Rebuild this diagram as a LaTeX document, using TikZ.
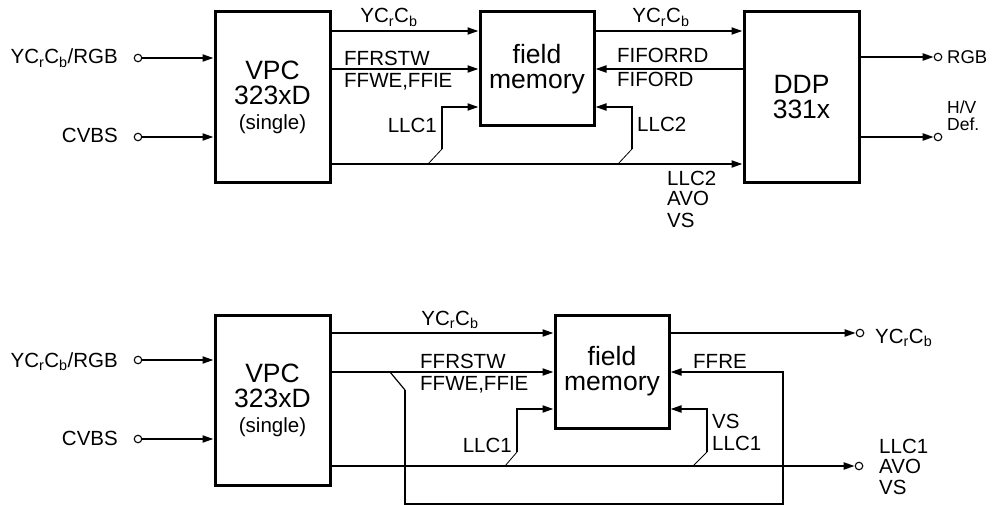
\documentclass[tikz,border=0pt]{standalone}
\usepackage{fontspec}
\setmainfont{Liberation Sans}
\usetikzlibrary{arrows.meta,calc}
\newcommand{\ycc}{YC\textsubscript{r}C\textsubscript{b}}
\begin{document}
\begin{tikzpicture}[x=1pt,y=-1pt,
  blk/.style={draw, line width=3pt, inner sep=0pt, align=center, font=\fontsize{26.5}{27}\selectfont},
  lbl/.style={inner sep=0pt, font=\fontsize{20.5}{21}\selectfont},
  slbl/.style={inner sep=0pt, align=left, font=\fontsize{17.5}{17}\selectfont},
  ln/.style={line width=2pt},
  arr/.style={line width=2pt, -{Triangle[length=11pt,width=7pt]}},
  tick/.style={line width=0.8pt},
  term/.style={circle, draw, line width=1.1pt, minimum size=7.5pt, inner sep=0pt}]
\useasboundingbox (0,0) rectangle (993,505);

% ---------------- top diagram ----------------
\node[blk, minimum width=115pt, minimum height=171pt] (vpc1) at (272.5,97.5)
  {VPC\\[-2pt]323xD\\[-2pt]{\fontsize{20.5}{22}\selectfont (single)}};
\node[blk, minimum width=114pt, minimum height=114pt] (fm1) at (537,69)
  {field\\[-2pt]memory};
\node[blk, minimum width=115pt, minimum height=171pt] (ddp) at (801.5,97.5)
  {DDP\\[-2pt]331x};

\coordinate (t1) at (0,31);
\coordinate (t2) at (0,69);
\coordinate (t3) at (0,107);
\coordinate (t4) at (0,164);

% inputs
\node[term] (ci1) at (138,58) {};
\node[term] (ci2) at (138,137) {};
\node[lbl, anchor=base east] (li1) at (118,64) {\ycc/RGB};
\node[lbl, anchor=base east] (li2) at (118,143) {CVBS};
\draw[arr] (ci1.east) -- (vpc1.west |- ci1);
\draw[arr] (ci2.east) -- (vpc1.west |- ci2);

% VPC -> field memory
\draw[arr] (vpc1.east |- t1) -- (fm1.west |- t1);
\draw[arr] (vpc1.east |- t2) -- (fm1.west |- t2);
\node[lbl, anchor=base] (l1) at (389,23) {\ycc};
\node[lbl, anchor=base west] (l2) at (344,66) {FFRSTW};
\node[lbl, anchor=base west] (l3) at (344,88) {FFWE,FFIE};

% bus
\draw[arr] (vpc1.east |- t4) -- (ddp.west |- t4);
\coordinate (b1) at (428,164);
\coordinate (b1k) at (442,149);
\draw[tick] (b1) -- (b1k);
\draw[arr] (b1k) -- (b1k |- t3) -- (fm1.west |- t3);
\node[lbl, anchor=base east] (l4) at (437,133) {LLC1};

\coordinate (b2) at (618,164);
\coordinate (b2k) at (632,149);
\draw[tick] (b2) -- (b2k);
\draw[arr] (b2k) -- (b2k |- t3) -- (fm1.east |- t3);
\node[lbl, anchor=base west] (l5) at (637,132) {LLC2};

% field memory <-> DDP
\draw[arr] (fm1.east |- t1) -- (ddp.west |- t1);
\draw[arr] (ddp.west |- t2) -- (fm1.east |- t2);
\node[lbl, anchor=base] (l6) at (661,23) {\ycc};
\node[lbl, anchor=base west] (l7) at (617,63) {FIFORRD};
\node[lbl, anchor=base west] (l8) at (617,87) {FIFORD};

\node[lbl, anchor=base west] (l9a) at (667,186) {LLC2};
\node[lbl, anchor=base west] (l9b) at (667,206) {AVO};
\node[lbl, anchor=base west] (l9c) at (667,227) {VS};

% DDP outputs
\node[term] (co1) at (938,57) {};
\node[term] (co2) at (938,137) {};
\draw[arr] (ddp.east |- co1) -- (co1.west);
\draw[arr] (ddp.east |- co2) -- (co2.west);
\node[lbl, anchor=base west, font=\fontsize{18.5}{19}\selectfont] (lo1) at (947,64) {RGB};
\node[slbl, anchor=base west] (lo2) at (947,131) {H/V\\Def.};

% ---------------- bottom diagram ----------------
\node[blk, minimum width=115pt, minimum height=170pt] (vpc2) at (272.5,400)
  {VPC\\[-2pt]323xD\\[-2pt]{\fontsize{20.5}{22}\selectfont (single)}};
\node[blk, minimum width=114pt, minimum height=113pt] (fm2) at (612,371.5)
  {field\\[-2pt]memory};

\coordinate (u1) at (0,333);
\coordinate (u2) at (0,372);
\coordinate (u3) at (0,409);
\coordinate (u4) at (0,466);

% inputs
\node[term] (di1) at (138,360) {};
\node[term] (di2) at (138,439) {};
\node[lbl, anchor=base east] (mi1) at (118,367) {\ycc/RGB};
\node[lbl, anchor=base east] (mi2) at (118,445) {CVBS};
\draw[arr] (di1.east) -- (vpc2.west |- di1);
\draw[arr] (di2.east) -- (vpc2.west |- di2);

% VPC -> field memory
\draw[arr] (vpc2.east |- u1) -- (fm2.west |- u1);
\draw[arr] (vpc2.east |- u2) -- (fm2.west |- u2);
\node[lbl, anchor=base] (m1) at (450,325) {\ycc};
\node[lbl, anchor=base west] (m2) at (420,368) {FFRSTW};
\node[lbl, anchor=base west] (m3) at (420,390) {FFWE,FFIE};

% FFRE loop
\coordinate (f0) at (390,372);
\coordinate (f1) at (405,390);
\coordinate (f2) at (405,504);
\coordinate (f3) at (783,504);
\draw[line width=1.2pt] (f0) -- (f1);
\draw[arr] (f1) -- (f2) -- (f3) -- (f3 |- u2) -- (fm2.east |- u2);
\node[lbl, anchor=base west] (m4) at (693,368) {FFRE};

% output YCrCb
\node[term] (do1) at (860,333) {};
\draw[arr] (fm2.east |- do1) -- (do1.west);
\node[lbl, anchor=base west] (mo1) at (875,343) {\ycc};

% bus
\node[term] (do2) at (859,466) {};
\draw[arr] (vpc2.east |- u4) -- (do2.west);
\node[lbl, anchor=base west] (mo2a) at (879,453) {LLC1};
\node[lbl, anchor=base west] (mo2b) at (879,473) {AVO};
\node[lbl, anchor=base west] (mo2c) at (879,494) {VS};

\coordinate (g1) at (505,466);
\coordinate (g1k) at (517,452);
\draw[tick] (g1) -- (g1k);
\draw[arr] (g1k) -- (g1k |- u3) -- (fm2.west |- u3);
\node[lbl, anchor=base east] (m5) at (512,452) {LLC1};

\coordinate (g2) at (693,466);
\coordinate (g2k) at (707,452);
\draw[tick] (g2) -- (g2k);
\draw[arr] (g2k) -- (g2k |- u3) -- (fm2.east |- u3);
\node[lbl, anchor=base west] (m6) at (712,428) {VS};
\node[lbl, anchor=base west] (m7) at (712,450) {LLC1};
\end{tikzpicture}
\end{document}
